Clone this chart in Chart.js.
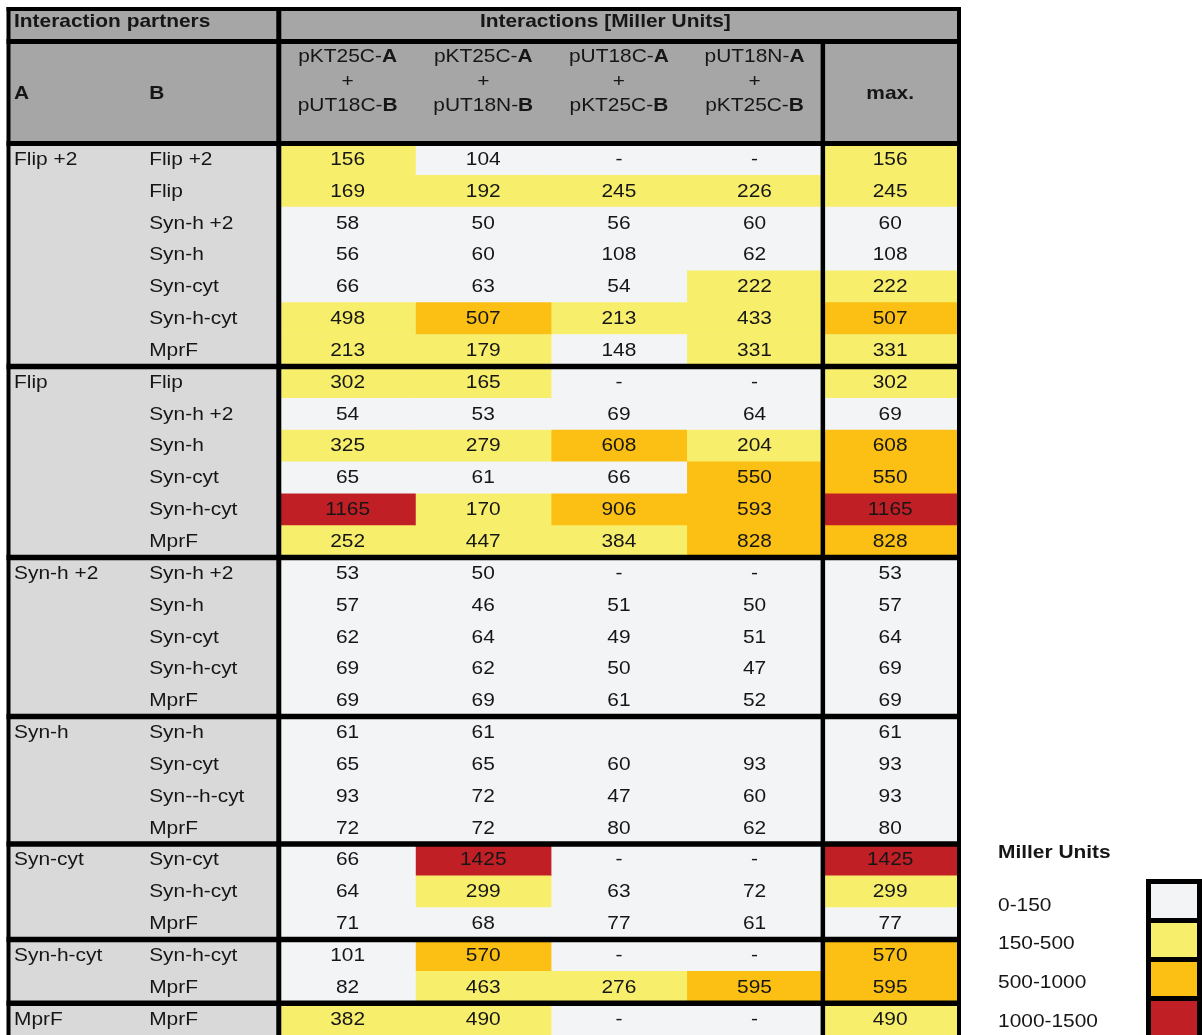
<!DOCTYPE html>
<html><head><meta charset="utf-8">
<style>html,body{margin:0;padding:0;background:#fff;overflow:hidden}canvas{display:block}</style>
<script src="https://cdn.jsdelivr.net/npm/chart.js@4.4.1/dist/chart.umd.min.js"></script>
</head><body>
<canvas id="c" width="1202" height="1035"></canvas>
<script>
// ---- data ----
const groupA = ['Flip +2','','','','','','',
  'Flip','','','','','',
  'Syn-h +2','','','','',
  'Syn-h','','','',
  'Syn-cyt','','',
  'Syn-h-cyt','',
  'MprF'];
const partnerB = ['Flip +2','Flip','Syn-h +2','Syn-h','Syn-cyt','Syn-h-cyt','MprF',
  'Flip','Syn-h +2','Syn-h','Syn-cyt','Syn-h-cyt','MprF',
  'Syn-h +2','Syn-h','Syn-cyt','Syn-h-cyt','MprF',
  'Syn-h','Syn-cyt','Syn--h-cyt','MprF',
  'Syn-cyt','Syn-h-cyt','MprF',
  'Syn-h-cyt','MprF',
  'MprF'];
const plasmidA = ['pKT25C','pKT25C','pUT18C','pUT18N'];
const plasmidB = ['pUT18C','pUT18N','pKT25C','pKT25C'];
const col1 = [156,169,58,56,66,498,213, 302,54,325,65,1165,252, 53,57,62,69,69, 61,65,93,72, 66,64,71, 101,82, 382];
const col2 = [104,192,50,60,63,507,179, 165,53,279,61,170,447, 50,46,64,62,69, 61,65,72,72, 1425,299,68, 570,463, 490];
const col3 = ['-',245,56,108,54,213,148, '-',69,608,66,906,384, '-',51,49,50,61, '',60,47,80, '-',63,77, '-',276, '-'];
const col4 = ['-',226,60,62,222,433,331, '-',64,204,550,593,828, '-',50,51,47,52, '',93,60,62, '-',72,61, '-',595, '-'];
const maxCol = [156,245,60,108,222,507,331, 302,69,608,550,1165,828, 53,57,64,69,69, 61,93,93,80, 1425,299,77, 570,595, 490];
const binLabels = ['0-150','150-500','500-1000','1000-1500'];
const binEdges = [0,150,500,1000,1500];
const binColors = ['#f3f4f6','#f7ef6c','#fbc013','#c11f26'];

const columns = [col1,col2,col3,col4,maxCol];
const rowIds = partnerB.map((b,i)=>String(i));
const LABEL_GREY = '#d9d9d9', HEAD_GREY = '#a6a6a6', INK = '#161616';

function colorFor(v){
  if (typeof v !== 'number') return binColors[0];
  for (let i=0;i<binLabels.length;i++){ if (v < binEdges[i+1]) return binColors[i]; }
  return binColors[binColors.length-1];
}

const SX = 1.13, FS = 18.5;
function font(b){return (b?'bold ':'')+FS+'px "Liberation Sans", Arial, sans-serif';}
function drawRich(ctx, parts, x, y, align){
  let total=0;
  const ws = parts.map(p=>{ctx.font=font(p[1]); const w=ctx.measureText(p[0]).width*SX; total+=w; return w;});
  let px = align==='center' ? x-total/2 : (align==='right' ? x-total : x);
  ctx.textAlign='left'; ctx.textBaseline='alphabetic'; ctx.fillStyle=INK;
  parts.forEach((p,i)=>{ctx.font=font(p[1]); ctx.save(); ctx.translate(px,y); ctx.scale(SX,1); ctx.fillText(p[0],0,0); ctx.restore(); px+=ws[i];});
}

const datasets = [{
  data: rowIds.map(()=>[-2,0]),
  backgroundColor: LABEL_GREY, grouped:false, barPercentage:1, categoryPercentage:1, borderWidth:0
}].concat(columns.map((vals,c)=>({
  data: rowIds.map(()=>[c,c+1]),
  backgroundColor: (ctx)=>colorFor(vals[ctx.dataIndex]),
  grouped:false, barPercentage:1, categoryPercentage:1, borderWidth:0
})));

const tablePlugin = {
  id:'tablePlugin',
  beforeDraw(chart){
    const {ctx} = chart;
    ctx.save(); ctx.fillStyle='#fff'; ctx.fillRect(0,0,chart.width,chart.height); ctx.restore();
  },
  afterDatasetsDraw(chart){
    const {ctx, chartArea} = chart;
    const xs = chart.scales.x, ys = chart.scales.y;
    const X = v=>xs.getPixelForValue(v);
    const top = 9, h1 = 41.5, h2 = chartArea.top;
    ctx.save();
    // header backgrounds
    ctx.fillStyle = HEAD_GREY;
    ctx.fillRect(X(-2), top, X(5)-X(-2), h2-top);
    // header texts
    drawRich(ctx, [['Interaction partners',true]], X(-2)+5.5, 27, 'left');
    drawRich(ctx, [['Interactions [Miller Units]',true]], X(2.4), 27, 'center');
    drawRich(ctx, [['A',true]], X(-2)+5.5, 99, 'left');
    drawRich(ctx, [['B',true]], X(-1)+5, 99, 'left');
    for (let c=0;c<4;c++){
      const cx = X(c+0.5);
      drawRich(ctx, [[plasmidA[c]+'-',false],['A',true]], cx, 62.3, 'center');
      drawRich(ctx, [['+',false]], cx, 86.5, 'center');
      drawRich(ctx, [[plasmidB[c]+'-',false],['B',true]], cx, 111, 'center');
    }
    drawRich(ctx, [['max.',true]], X(4.5), 99, 'center');
    // row texts
    rowIds.forEach((id,i)=>{
      const y = ys.getPixelForValue(i) + 5.5;
      if (groupA[i]) drawRich(ctx, [[groupA[i],false]], X(-2)+5.5, y, 'left');
      drawRich(ctx, [[partnerB[i],false]], X(-1)+5, y, 'left');
      columns.forEach((vals,c)=>{
        const v = vals[i];
        if (v === '' || v === undefined || v === null) return;
        drawRich(ctx, [[String(v),false]], X(c+0.5), y, 'center');
      });
    });
    // lines
    ctx.strokeStyle = '#000';
    const hline = (y,w)=>{ctx.lineWidth=w; ctx.beginPath(); ctx.moveTo(X(-2)-2,y); ctx.lineTo(X(5)+2,y); ctx.stroke();};
    const vline = (x,y0,w)=>{ctx.lineWidth=w; ctx.beginPath(); ctx.moveTo(x,y0); ctx.lineTo(x,chart.height+5); ctx.stroke();};
    hline(top,4); hline(h1,5); hline(h2,5);
    groupA.forEach((g,i)=>{
      if (g && i>0){
        const y = (ys.getPixelForValue(i-1)+ys.getPixelForValue(i))/2;
        hline(y,5.5);
      }
    });
    vline(X(-2), top-2, 4);
    vline(X(0)-1, top-2, 5);
    vline(X(4)+0.5, h1, 4.5);
    vline(X(5)+1, top-2, 4);
    // legend
    drawRich(ctx, [['Miller Units',true]], 998, 857.7, 'left');
    const lb = [910.7, 949.3, 988, 1026.7];
    ctx.fillStyle='#000';
    ctx.fillRect(1146, 879, 60, 200);
    binLabels.forEach((lab,i)=>{
      drawRich(ctx, [[lab,false]], 998, lb[i], 'left');
      ctx.fillStyle = binColors[i];
      ctx.fillRect(1151, 884 + i*39, 46, 34);
    });
    ctx.restore();
  }
};

new Chart(document.getElementById('c'), {
  type:'bar',
  data:{ labels: rowIds, datasets },
  options:{
    indexAxis:'y', responsive:false, animation:false, devicePixelRatio:1,
    events:[],
    layout:{ padding:{ left:8.5, right:1202-958, top:143.5, bottom:0 } },
    plugins:{ legend:{display:false}, tooltip:{enabled:false}, title:{display:false} },
    scales:{
      x:{ type:'linear', min:-2, max:5, display:false },
      y:{ type:'category', display:false, offset:true }
    }
  },
  plugins:[tablePlugin]
});
</script>
</body></html>
